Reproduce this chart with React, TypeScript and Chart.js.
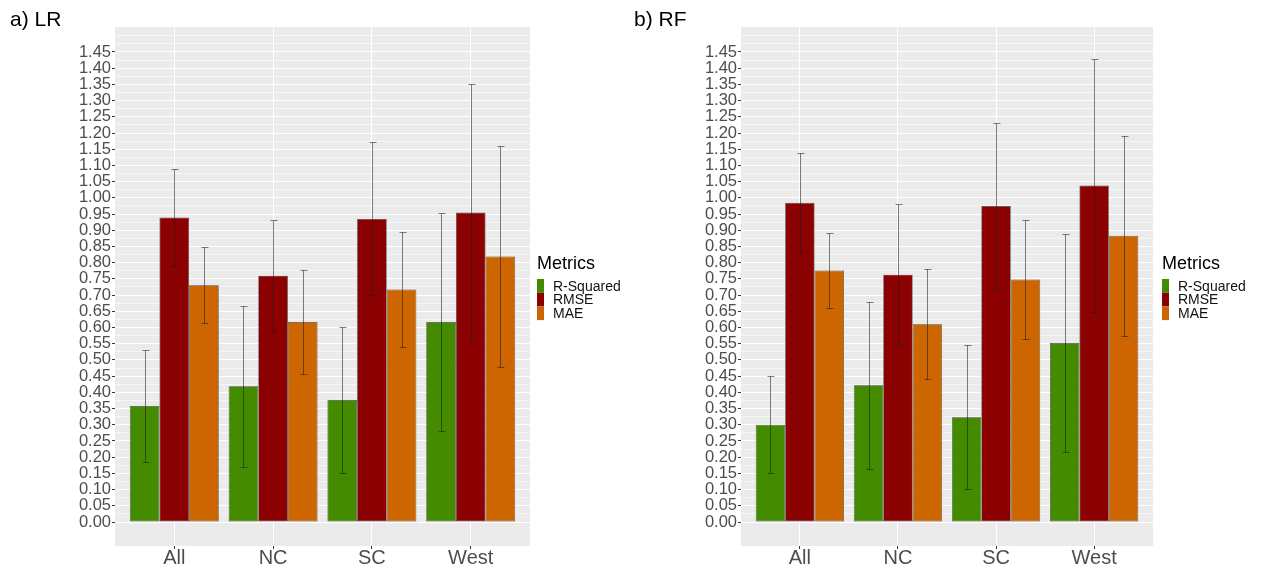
import React, { useEffect, useRef } from "react";
import { Chart, registerables } from "chart.js";

Chart.register(...registerables);

// ---------------- data ----------------
const CATEGORIES = ["All", "NC", "SC", "West"];
const METRICS = ["R-Squared", "RMSE", "MAE"];
const METRIC_COLORS = ["#458B00", "#8B0000", "#CD6600"];

const Y_TICKS = [
  0.0, 0.05, 0.1, 0.15, 0.2, 0.25, 0.3, 0.35, 0.4, 0.45, 0.5, 0.55, 0.6, 0.65, 0.7,
  0.75, 0.8, 0.85, 0.9, 0.95, 1.0, 1.05, 1.1, 1.15, 1.2, 1.25, 1.3, 1.35, 1.4, 1.45,
];

// a) LR  (means, then +/- error)
const LR_R2 = [0.358, 0.419, 0.376, 0.617];
const LR_RMSE = [0.939, 0.76, 0.935, 0.955];
const LR_MAE = [0.73, 0.617, 0.717, 0.819];
const LR_R2_ERR = [0.174, 0.248, 0.225, 0.335];
const LR_RMSE_ERR = [0.15, 0.171, 0.236, 0.395];
const LR_MAE_ERR = [0.117, 0.161, 0.177, 0.342];

// b) RF
const RF_R2 = [0.3, 0.422, 0.323, 0.552];
const RF_RMSE = [0.985, 0.763, 0.975, 1.038];
const RF_MAE = [0.776, 0.61, 0.748, 0.883];
const RF_R2_ERR = [0.149, 0.258, 0.222, 0.337];
const RF_RMSE_ERR = [0.153, 0.217, 0.255, 0.391];
const RF_MAE_ERR = [0.117, 0.17, 0.183, 0.309];

// ---------------- styling ----------------
const FONT = "'Liberation Sans', Arial, Helvetica, sans-serif";
const Y_MIN = -0.074;
const Y_MAX = 1.527;

const MINOR_TICKS = Y_TICKS.map((v) => Math.round((v + 0.025) * 1000) / 1000).concat([1.5]);
const ALL_TICKS = Y_TICKS.concat(MINOR_TICKS).sort((a, b) => a - b);
const isMajor = (v: number) =>
  Y_TICKS.some((t) => Math.abs(t - v) < 1e-6);

const errorBarPlugin = {
  id: "errorBars",
  afterDatasetsDraw(chart: any) {
    const ctx = chart.ctx;
    const yScale = chart.scales.y;
    chart.data.datasets.forEach((ds: any, i: number) => {
      const meta = chart.getDatasetMeta(i);
      meta.data.forEach((el: any, j: number) => {
        const v = ds.data[j].y;
        const e = ds.errorBars[j];
        const top = Math.round(yScale.getPixelForValue(v + e)) + 0.5;
        const bot = Math.round(yScale.getPixelForValue(v - e)) + 0.5;
        const x = Math.round(el.x) + 0.5;
        ctx.save();
        ctx.strokeStyle = "rgba(25,25,25,0.55)";
        ctx.lineWidth = 1;
        ctx.beginPath();
        ctx.moveTo(x, top);
        ctx.lineTo(x, bot);
        ctx.moveTo(x - 3, top);
        ctx.lineTo(x + 4, top);
        ctx.moveTo(x - 3, bot);
        ctx.lineTo(x + 4, bot);
        ctx.stroke();
        ctx.restore();
      });
    });
  },
};

type PanelProps = {
  title: string;
  titleX: number;
  left: number;
  width: number;
  areaRight: number;
  legendX: number;
  means: number[][];
  errs: number[][];
};

function Panel(props: PanelProps) {
  const ref = useRef<HTMLCanvasElement | null>(null);
  useEffect(() => {
    const canvas = ref.current;
    if (!canvas) return;
    const { title, titleX, width, areaRight, legendX, means, errs } = props;

    const decorPlugin = {
      id: "decor",
      beforeDraw(chart: any) {
        const ctx = chart.ctx;
        const a = chart.chartArea;
        ctx.save();
        ctx.fillStyle = "#FFFFFF";
        ctx.fillRect(0, 0, chart.width, chart.height);
        ctx.fillStyle = "#EBEBEB";
        ctx.fillRect(a.left, a.top, a.right - a.left, a.bottom - a.top);
        ctx.restore();
      },
      afterDraw(chart: any) {
        const ctx = chart.ctx;
        ctx.save();
        // panel title
        ctx.fillStyle = "#000000";
        ctx.font = `21px ${FONT}`;
        ctx.textBaseline = "alphabetic";
        ctx.textAlign = "left";
        ctx.fillText(title, titleX, 26);
        // legend
        ctx.font = `18px ${FONT}`;
        ctx.fillText("Metrics", legendX, 269);
        const keyTop = 279;
        const keyH = 13.7;
        chart.data.datasets.forEach((ds: any, i: number) => {
          const y0 = keyTop + i * keyH;
          ctx.fillStyle = ds.backgroundColor;
          ctx.fillRect(legendX, y0, 7, keyH);
          ctx.fillStyle = "#111111";
          ctx.font = `14px ${FONT}`;
          ctx.textBaseline = "middle";
          ctx.fillText(ds.label, legendX + 16, y0 + keyH / 2 + 1);
        });
        ctx.restore();
      },
    };

    const chart = new Chart(canvas, {
      type: "bar",
      data: {
        datasets: METRICS.map((m, i) => ({
          label: m,
          data: means[i].map((v, j) => ({ x: j, y: v })),
          backgroundColor: METRIC_COLORS[i],
          borderColor: "rgba(30,30,30,0.8)",
          borderWidth: 0.7,
          borderSkipped: false,
          categoryPercentage: 0.9,
          barPercentage: 1,
          errorBars: errs[i],
        })) as any,
      },
      options: {
        animation: false,
        responsive: false,
        maintainAspectRatio: false,
        layout: { padding: { left: 0, top: 27, right: width - areaRight, bottom: 0 } },
        plugins: {
          legend: { display: false },
          tooltip: { enabled: false },
          title: { display: false },
        },
        scales: {
          x: {
            type: "linear",
            min: -0.6,
            max: 3.6,
            offset: false,
            afterBuildTicks: (s: any) => {
              s.ticks = CATEGORIES.map((_, i) => ({ value: i }));
            },
            afterFit: (s: any) => {
              s.height = 24;
            },
            ticks: {
              callback: (v: any) => CATEGORIES[Math.round(v)] ?? "",
              font: { family: FONT, size: 20 },
              color: "#4D4D4D",
              padding: -3,
              autoSkip: false,
              maxRotation: 0,
            },
            grid: {
              offset: false,
              color: "#FFFFFF",
              lineWidth: 1,
              tickLength: 3,
              tickColor: "#333333",
            },
            border: { display: false },
          },
          y: {
            type: "linear",
            min: Y_MIN,
            max: Y_MAX,
            afterBuildTicks: (s: any) => {
              s.ticks = ALL_TICKS.map((v) => ({ value: v }));
            },
            afterFit: (s: any) => {
              s.width = 115;
            },
            ticks: {
              callback: (v: any) => (isMajor(v) ? Number(v).toFixed(2) : ""),
              font: { family: FONT, size: 16.5 },
              color: "#4D4D4D",
              padding: 1,
              autoSkip: false,
            },
            grid: {
              color: (c: any) =>
                c.tick && isMajor(c.tick.value) ? "#FFFFFF" : "rgba(255,255,255,0.55)",
              lineWidth: 1,
              tickLength: 3,
              tickColor: (c: any) =>
                c.tick && isMajor(c.tick.value) ? "#333333" : "rgba(0,0,0,0)",
            },
            border: { display: false },
          },
        },
      } as any,
      plugins: [decorPlugin, errorBarPlugin],
    });
    return () => chart.destroy();
  }, []);

  return (
    <canvas
      ref={ref}
      width={props.width}
      height={570}
      style={{
        position: "absolute",
        left: props.left,
        top: 0,
        width: props.width,
        height: 570,
        display: "block",
      }}
    />
  );
}

export default function App() {
  return (
    <div style={{ position: "absolute", left: 0, top: 0, width: 1264, height: 570, background: "#fff" }}>
      <Panel
        title="a) LR"
        titleX={10}
        left={0}
        width={626}
        areaRight={530}
        legendX={537}
        means={[LR_R2, LR_RMSE, LR_MAE]}
        errs={[LR_R2_ERR, LR_RMSE_ERR, LR_MAE_ERR]}
      />
      <Panel
        title="b) RF"
        titleX={8}
        left={626}
        width={638}
        areaRight={527}
        legendX={536}
        means={[RF_R2, RF_RMSE, RF_MAE]}
        errs={[RF_R2_ERR, RF_RMSE_ERR, RF_MAE_ERR]}
      />
    </div>
  );
}
